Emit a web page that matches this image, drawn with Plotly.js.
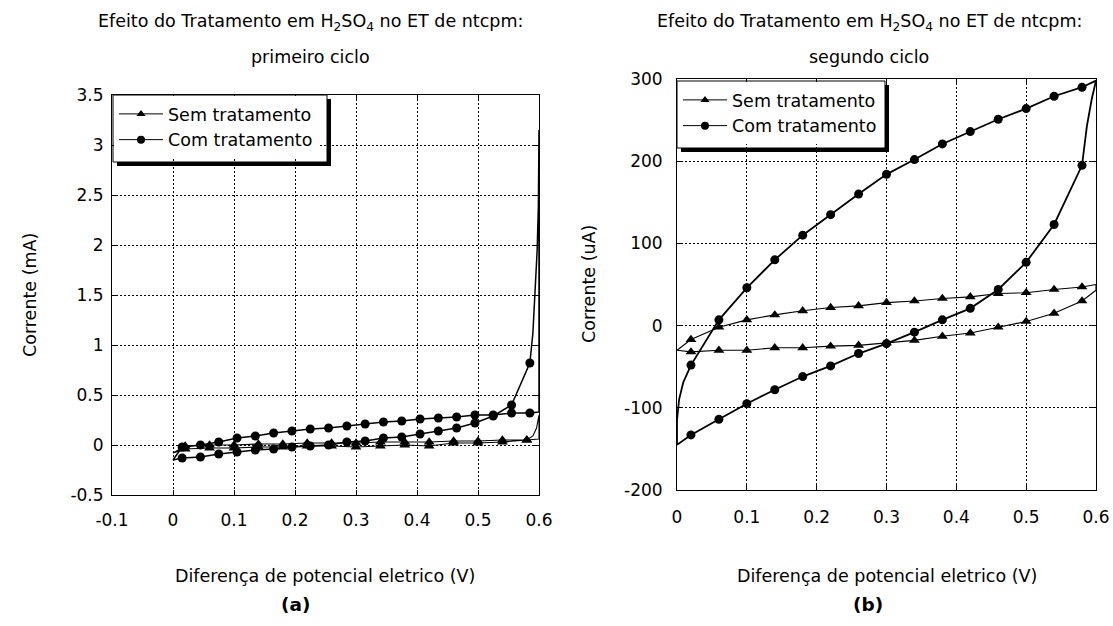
<!DOCTYPE html>
<html>
<head>
<meta charset="utf-8">
<script src="https://cdn.plot.ly/plotly-3.0.1.min.js"></script>
<style>
  html, body { margin: 0; padding: 0; background: #fff; }
  #fig { width: 1113px; height: 626px; }
</style>
</head>
<body>
<div id="fig"></div>
<script>
// ---------- Ciclo 1 (corrente em mA) ----------
// Sem tratamento: potenciais dos marcadores e correntes na ida e na volta
const v1_sem = [0.02, 0.06, 0.10, 0.14, 0.18, 0.22, 0.26, 0.30, 0.34, 0.38, 0.42, 0.46, 0.50, 0.54, 0.58];
const i1_sem_ida   = [-0.04, -0.03, -0.03, -0.02, -0.02, -0.01, -0.01, -0.02, -0.01, 0.00, -0.01, 0.02, 0.02, 0.03, 0.05];
const i1_sem_volta = [-0.01, 0.00, 0.00, 0.01, 0.01, 0.02, 0.02, 0.02, 0.03, 0.03, 0.03, 0.04, 0.04, 0.05, 0.05];
const v1_sem_ini = [0.0],  i1_sem_ini = [-0.08];
const v1_sem_pico = [0.59, 0.596, 0.6, 0.6], i1_sem_pico = [0.09, 0.17, 0.30, 0.06];
const v1_sem_fim = [0.0],  i1_sem_fim = [-0.08];

// Com tratamento
const v1_com = [0.015, 0.045, 0.075, 0.105, 0.135, 0.165, 0.195, 0.225, 0.255, 0.285,
                0.315, 0.345, 0.375, 0.405, 0.435, 0.465, 0.495, 0.525, 0.555, 0.585];
const i1_com_ida   = [-0.13, -0.12, -0.09, -0.07, -0.05, -0.04, -0.02, -0.01, 0.00, 0.03,
                      0.04, 0.07, 0.08, 0.11, 0.14, 0.17, 0.22, 0.29, 0.40, 0.82];
const i1_com_volta = [-0.02, 0.00, 0.03, 0.07, 0.09, 0.12, 0.14, 0.16, 0.17, 0.19,
                      0.21, 0.23, 0.24, 0.26, 0.27, 0.28, 0.30, 0.30, 0.32, 0.32];
const v1_com_ini = [0.0],  i1_com_ini = [-0.15];
const v1_com_pico = [0.59, 0.593, 0.597, 0.599, 0.6, 0.6], i1_com_pico = [1.12, 1.45, 1.95, 2.4, 3.15, 0.33];
const v1_com_fim = [0.0],  i1_com_fim = [-0.15];

// ---------- Ciclo 2 (corrente em uA) ----------
const v2 = [0.02, 0.06, 0.10, 0.14, 0.18, 0.22, 0.26, 0.30, 0.34, 0.38, 0.42, 0.46, 0.50, 0.54, 0.58];
const i2_sem_ida   = [-32, -30, -30, -27, -27, -25, -24, -21, -18, -13, -9, -2, 5, 15, 30];
const i2_sem_volta = [-17, -2, 7, 13, 18, 22, 24, 28, 30, 33, 35, 39, 40, 44, 47];
const v2_sem_ini = [0.0],  i2_sem_ini = [-30];
const v2_sem_pico = [0.6, 0.6], i2_sem_pico = [43, 50];
const v2_sem_fim = [0.0],  i2_sem_fim = [-30];

const i2_com_ida   = [-133, -114, -95, -78, -62, -49, -34, -22, -8, 7, 21, 44, 77, 123, 195];
const i2_com_volta = [-48, 7, 46, 80, 110, 135, 160, 184, 202, 221, 236, 251, 264, 279, 290];
const v2_com_ini = [0.0],  i2_com_ini = [-145];
const v2_com_pico = [0.587, 0.594, 0.6], i2_com_pico = [243, 276, 298];
const v2_com_fim = [0.009, 0.003, 0.0, 0.0], i2_com_fim = [-69, -90, -115, -145];

// ---------- Eixos ----------
const tick1_x = [-0.1, 0, 0.1, 0.2, 0.3, 0.4, 0.5, 0.6];
const tick1_xt = ['-0.1', '0', '0.1', '0.2', '0.3', '0.4', '0.5', '0.6'];
const tick1_y = [-0.5, 0, 0.5, 1, 1.5, 2, 2.5, 3, 3.5];
const tick1_yt = ['-0.5', '0', '0.5', '1', '1.5', '2', '2.5', '3', '3.5'];
const tick2_x = [0, 0.1, 0.2, 0.3, 0.4, 0.5, 0.6];
const tick2_xt = ['0', '0.1', '0.2', '0.3', '0.4', '0.5', '0.6'];
const tick2_y = [-200, -100, 0, 100, 200, 300];
const tick2_yt = ['-200', '-100', '0', '100', '200', '300'];

const serie_nomes = ['Sem tratamento', 'Com tratamento'];
const titulo = 'Efeito do Tratamento em H<sub>2</sub>SO<sub>4</sub> no ET de ntcpm:';
const subtitulos = ['primeiro ciclo', 'segundo ciclo'];

// ---------- Construção ----------
const W = 1113, H = 626;
const px = x => x / W;
const py = y => 1 - y / H;

// área de cada gráfico em pixels (esquerda, direita, topo, base)
const area1 = { l: 112, r: 539, t: 95, b: 495 };
const area2 = { l: 677, r: 1096, t: 79, b: 490 };

// caminho fechado do voltamograma: início, ida, vértice, volta (invertida), retorno
function caminho(c) {
  const vr = c.v.slice().reverse(), ir = c.volta.slice().reverse();
  return {
    x: [].concat(c.ini_v, c.v, c.pico_v, vr, c.fim_v),
    y: [].concat(c.ini_i, c.ida, c.pico_i, ir, c.fim_i)
  };
}

function serie(ax, ay, c, simbolo, tamanho, largura) {
  const p = caminho(c);
  return [
    { type: 'scatter', mode: 'lines', x: p.x, y: p.y, xaxis: ax, yaxis: ay,
      line: { color: '#000', width: largura }, showlegend: false, hoverinfo: 'skip' },
    { type: 'scatter', mode: 'markers', x: c.v.concat(c.v), y: c.ida.concat(c.volta), xaxis: ax, yaxis: ay,
      marker: { symbol: simbolo, size: tamanho, color: '#000' }, showlegend: false, hoverinfo: 'skip' }
  ];
}

function legendaItem(nome, simbolo, ax, ay, leg) {
  return { type: 'scatter', mode: 'lines+markers', x: [null], y: [null], xaxis: ax, yaxis: ay,
    name: nome, legend: leg, line: { color: '#000', width: 1 },
    marker: { symbol: simbolo, size: 8, color: '#000' } };
}

const s1 = { v: v1_sem, ida: i1_sem_ida, volta: i1_sem_volta, ini_v: v1_sem_ini, ini_i: i1_sem_ini,
             pico_v: v1_sem_pico, pico_i: i1_sem_pico, fim_v: v1_sem_fim, fim_i: i1_sem_fim };
const c1 = { v: v1_com, ida: i1_com_ida, volta: i1_com_volta, ini_v: v1_com_ini, ini_i: i1_com_ini,
             pico_v: v1_com_pico, pico_i: i1_com_pico, fim_v: v1_com_fim, fim_i: i1_com_fim };
const s2 = { v: v2, ida: i2_sem_ida, volta: i2_sem_volta, ini_v: v2_sem_ini, ini_i: i2_sem_ini,
             pico_v: v2_sem_pico, pico_i: i2_sem_pico, fim_v: v2_sem_fim, fim_i: i2_sem_fim };
const c2 = { v: v2, ida: i2_com_ida, volta: i2_com_volta, ini_v: v2_com_ini, ini_i: i2_com_ini,
             pico_v: v2_com_pico, pico_i: i2_com_pico, fim_v: v2_com_fim, fim_i: i2_com_fim };

const traces = [].concat(
  serie('x', 'y', s1, 'triangle-up', 9.5, 1.1),
  serie('x', 'y', c1, 'circle', 9, 1.5),
  serie('x2', 'y2', s2, 'triangle-up', 9.5, 1.1),
  serie('x2', 'y2', c2, 'circle', 9, 1.8),
  [legendaItem(serie_nomes[0], 'triangle-up', 'x', 'y', 'legend'),
   legendaItem(serie_nomes[1], 'circle', 'x', 'y', 'legend'),
   legendaItem(serie_nomes[0], 'triangle-up', 'x2', 'y2', 'legend2'),
   legendaItem(serie_nomes[1], 'circle', 'x2', 'y2', 'legend2')]
);

const FONT = 'DejaVu Sans, Liberation Sans, Arial, sans-serif';
const eixo = {
  showline: true, linecolor: '#000', linewidth: 1, mirror: 'ticks',
  ticks: 'inside', ticklen: 5, tickwidth: 1, tickcolor: '#000',
  showgrid: true, gridcolor: '#000', gridwidth: 1, griddash: '2px,2px',
  zeroline: false, tickfont: { size: 17, color: '#000' }, fixedrange: true
};

// fundo branco da legenda esconde a grade; contorno e sombra vêm das formas abaixo
const legenda = {
  xanchor: 'left', yanchor: 'top', bgcolor: '#fff', borderwidth: 0,
  font: { size: 17.5, color: '#000' }, itemwidth: 44, tracegroupgap: 0,
  itemclick: false, itemdoubleclick: false
};

// caixas das legendas em pixels
const caixa1 = { x: 113, y: 95, w: 214, h: 67 };
const caixa2 = { x: 677, y: 81, w: 208, h: 67 };
const SOMBRA = 4;

function retangulo(x0, y0, x1, y1, estilo) {
  return Object.assign({ type: 'rect', xref: 'paper', yref: 'paper', layer: 'above',
    x0: px(x0), x1: px(x1), y0: py(y1), y1: py(y0) }, estilo);
}

// contorno fino e sombra (faixas à direita e embaixo)
function caixaLegenda(c) {
  const preto = { fillcolor: '#000', line: { width: 0 } };
  return [
    retangulo(c.x, c.y, c.x + c.w, c.y + c.h, { fillcolor: 'rgba(0,0,0,0)', line: { color: '#000', width: 1 } }),
    retangulo(c.x + c.w, c.y + SOMBRA, c.x + c.w + SOMBRA, c.y + c.h + SOMBRA, preto),
    retangulo(c.x + SOMBRA, c.y + c.h, c.x + c.w + SOMBRA, c.y + c.h + SOMBRA, preto)
  ];
}

function nota(texto, x, y, tam, extra) {
  return Object.assign({ text: texto, x: px(x), y: py(y), xref: 'paper', yref: 'paper',
    showarrow: false, xanchor: 'center', yanchor: 'middle', font: { size: tam, color: '#000' } }, extra || {});
}

const layout = {
  width: W, height: H, margin: { l: 0, r: 0, t: 0, b: 0 },
  paper_bgcolor: '#fff', plot_bgcolor: '#fff',
  font: { family: FONT, size: 16, color: '#000' },
  showlegend: true,
  xaxis: Object.assign({}, eixo, { domain: [px(area1.l), px(area1.r)], range: [-0.1, 0.6],
    tickmode: 'array', tickvals: tick1_x, ticktext: tick1_xt, anchor: 'y', ticklabelstandoff: 10 }),
  yaxis: Object.assign({}, eixo, { domain: [py(area1.b), py(area1.t)], range: [-0.5, 3.5],
    tickmode: 'array', tickvals: tick1_y, ticktext: tick1_yt, anchor: 'x', ticklabelstandoff: 4 }),
  xaxis2: Object.assign({}, eixo, { domain: [px(area2.l), px(area2.r)], range: [0, 0.6],
    tickmode: 'array', tickvals: tick2_x, ticktext: tick2_xt, anchor: 'y2', ticklabelstandoff: 12 }),
  yaxis2: Object.assign({}, eixo, { domain: [py(area2.b), py(area2.t)], range: [-200, 300],
    tickmode: 'array', tickvals: tick2_y, ticktext: tick2_yt, anchor: 'x2', ticklabelstandoff: 10 }),
  legend: Object.assign({}, legenda, { x: px(caixa1.x + 1), y: py(caixa1.y + 1) }),
  legend2: Object.assign({}, legenda, { x: px(caixa2.x + 1), y: py(caixa2.y + 1) }),
  shapes: [].concat(caixaLegenda(caixa1), caixaLegenda(caixa2)),
  annotations: [
    nota(titulo, 310, 22, 17.5),
    nota(subtitulos[0], 310, 57, 17.5),
    nota(titulo, 869, 22, 17.5),
    nota(subtitulos[1], 869, 57, 17.5),
    nota('Corrente (mA)', 30, 295, 17.5, { textangle: -90 }),
    nota('Corrente (uA)', 589, 284, 17.5, { textangle: -90 }),
    nota('Diferença de potencial eletrico (V)', 325, 576, 17.5),
    nota('Diferença de potencial eletrico (V)', 887, 576, 17.5),
    nota('<b>(a)</b>', 296, 604, 18.5),
    nota('<b>(b)</b>', 868, 604, 18.5)
  ]
};

Plotly.newPlot('fig', traces, layout, { staticPlot: true, displayModeBar: false });
</script>
</body>
</html>
